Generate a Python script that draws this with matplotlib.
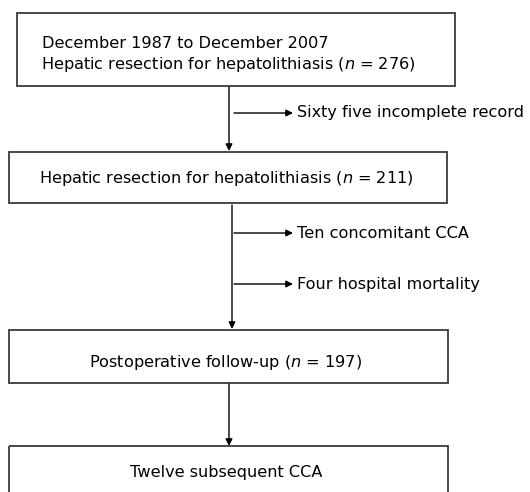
import matplotlib
matplotlib.use("Agg")
import matplotlib.pyplot as plt
from matplotlib.patches import Rectangle

plt.rcParams['font.family'] = ['DejaVu Sans']
plt.rcParams['mathtext.fontset'] = 'custom'
plt.rcParams['mathtext.it'] = 'DejaVu Sans:italic'
plt.rcParams['mathtext.rm'] = 'DejaVu Sans'

# Flowchart content
box_texts = [
    "December 1987 to December 2007\nHepatic resection for hepatolithiasis ($n$ = 276)",
    "Hepatic resection for hepatolithiasis ($n$ = 211)",
    "Postoperative follow-up ($n$ = 197)",
    "Twelve subsequent CCA",
]
side_labels = [
    "Sixty five incomplete record",
    "Ten concomitant CCA",
    "Four hospital mortality",
]

# Layout (pixel space)
boxes = [(17, 13, 455, 86), (9, 152, 447, 203), (9, 330, 448, 383), (9, 446, 448, 500)]
verticals = [(229, 87, 151), (232, 205, 329), (229, 384, 446)]
side_arrows = [(234, 293, 113), (234, 293, 233), (234, 293, 284)]

fig = plt.figure(figsize=(5.30, 4.92), dpi=100)
ax = fig.add_axes([0, 0, 1, 1])
ax.set_xlim(0, 530)
ax.set_ylim(492, 0)
ax.axis('off')

edge = '#3a3a3a'
for (x0, y0, x1, y1) in boxes:
    ax.add_patch(Rectangle((x0, y0), x1 - x0, y1 - y0, fill=False,
                           edgecolor=edge, lw=1.3, clip_on=False))

fs = 11.6
# Box 1: left aligned two lines
l1, l2 = box_texts[0].split("\n")
ax.text(42, 43, l1, fontsize=fs, ha='left', va='center')
ax.text(41, 65, l2, fontsize=fs, ha='left', va='center')
ax.text(226, 178, box_texts[1], fontsize=fs, ha='center', va='center')
ax.text(226, 362, box_texts[2], fontsize=fs, ha='center', va='center')
ax.text(226, 473, box_texts[3], fontsize=fs, ha='center', va='center')

ap = dict(arrowstyle='-|>', mutation_scale=10, color='black', lw=1.0,
          shrinkA=0, shrinkB=0)
for (x, y0, y1) in verticals:
    ax.annotate('', xy=(x, y1), xytext=(x, y0), arrowprops=ap)
for (x0, x1, y), lab in zip(side_arrows, side_labels):
    ax.annotate('', xy=(x1, y), xytext=(x0, y), arrowprops=ap)
    ax.text(x1 + 4, y, lab, fontsize=fs, ha='left', va='center')

fig.savefig("out.png", dpi=100)
